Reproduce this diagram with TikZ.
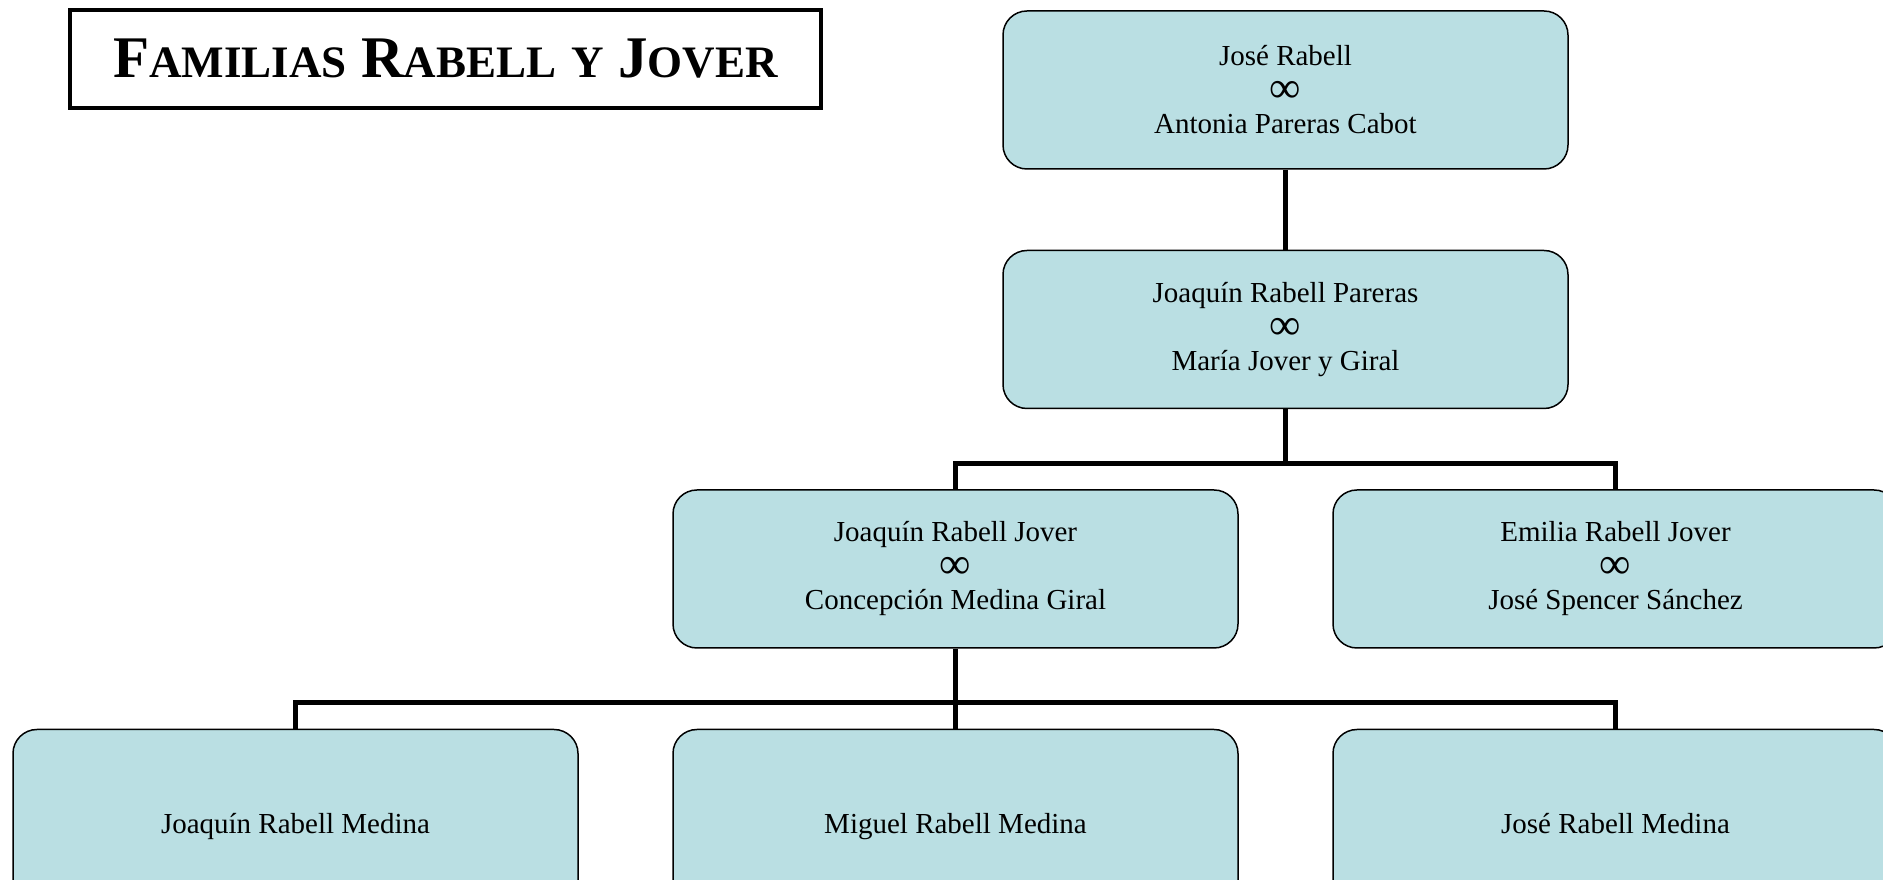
\documentclass[tikz,border=0pt]{standalone}
\usepackage{fontspec}
\setmainfont{Liberation Serif}
\usetikzlibrary{positioning}
\definecolor{boxfill}{RGB}{186,223,227}
\newcommand{\casado}{\raisebox{-3pt}{\smash{\fontsize{44}{34}\selectfont ∞}}}
\newcommand{\smc}[1]{{\fontsize{45}{60}\selectfont #1}}

\begin{document}
\begin{tikzpicture}[x=1pt,y=1pt,node distance=80pt,
 person/.style={draw,line width=1.5pt,rounded corners=24pt,fill=boxfill,align=center,minimum width=565pt,minimum height=158pt,inner sep=0pt,font=\fontsize{29}{34}\selectfont},
 child/.style={person,minimum height=196pt,text height=20pt,text depth=7pt},
 link/.style={line width=5pt}]
\useasboundingbox (0,0) rectangle (1883,880);
\clip (0,0) rectangle (1883,880);
\node[draw,line width=3.5pt,minimum width=751pt,minimum height=98pt,inner sep=0pt,font=\bfseries\fontsize{59}{70}\selectfont] (title) at (445.5,821) {F\smc{AMILIAS} R\smc{ABELL} \smc{Y} J\smc{OVER}};
% generations
\node[person] (jose) at (1285.5,790) {José Rabell\\\casado\\Antonia Pareras Cabot};
\node[person,below=of jose] (joaquin) {Joaquín Rabell Pareras\\\casado\\María Jover y Giral};
\node[person,below=of joaquin,xshift=-330pt] (joaquinj) {Joaquín Rabell Jover\\\casado\\Concepción Medina Giral};
\node[person,below=of joaquin,xshift=330pt] (emilia) {Emilia Rabell Jover\\\casado\\José Spencer Sánchez};
\node[child,below=of joaquinj,xshift=-660pt] (joaquinm) {Joaquín Rabell Medina};
\node[child,below=of joaquinj] (miguel) {Miguel Rabell Medina};
\node[child,below=of joaquinj,xshift=660pt] (josem) {José Rabell Medina};
% lines
\coordinate[below=54pt of joaquin] (bus1);
\coordinate[below=54pt of joaquinj] (bus2);
\draw[link] (jose) -- (joaquin);
\draw[link] (joaquin) -- (bus1);
\draw[link] (joaquinj.north) |- (bus1) -| (emilia.north);
\draw[link] (joaquinj) -- (miguel);
\draw[link] (joaquinm.north) |- (bus2) -| (josem.north);
\end{tikzpicture}
\end{document}
